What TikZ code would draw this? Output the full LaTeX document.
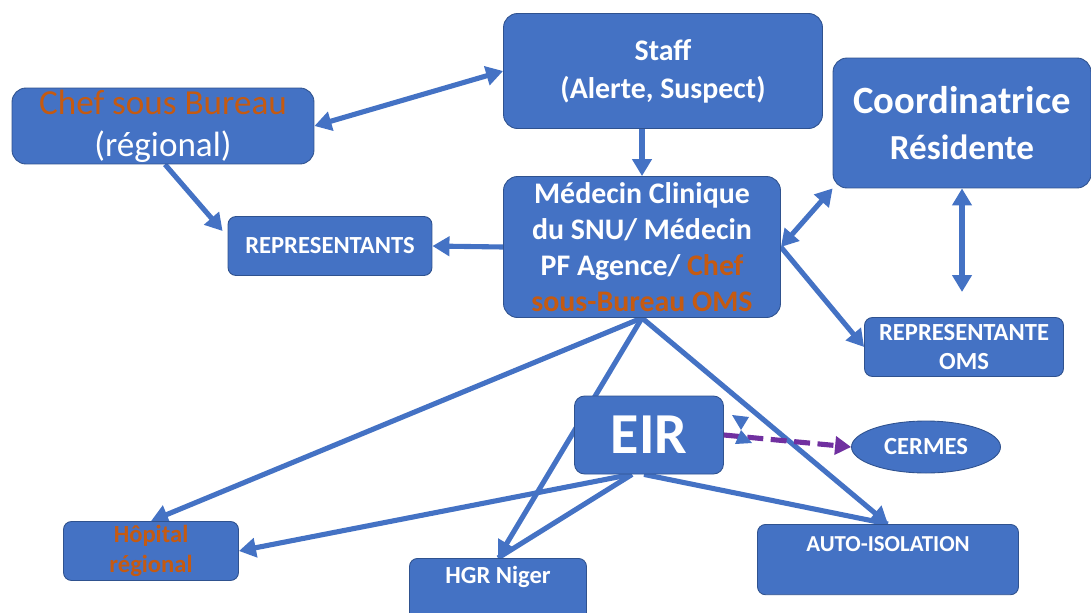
\documentclass[tikz,border=0pt]{standalone}
\usepackage{fontspec}
\setmainfont{Carlito}
\usetikzlibrary{arrows.meta,shapes.geometric,backgrounds}
\definecolor{boxblue}{HTML}{4472C4}
\definecolor{boxline}{HTML}{2F528F}
\definecolor{chefor}{HTML}{C55A11}
\definecolor{cermpurple}{HTML}{7030A0}
\tikzset{
  box/.style={rectangle, rounded corners=0.28cm, fill=boxblue, draw=boxline,
    line width=0.5pt, text=white, align=center, inner sep=0pt},
  smallbox/.style={box, rounded corners=0.16cm},
  link/.style={boxblue, line width=2.9pt},
  linkone/.style={link, -{Triangle[length=0.34cm,width=0.38cm]}},
  linktwo/.style={link, {Triangle[length=0.34cm,width=0.38cm]}-{Triangle[length=0.34cm,width=0.38cm]}},
}
\begin{document}
\begin{tikzpicture}[x=0.02cm,y=-0.02cm]
  \useasboundingbox (0,0) rectangle (1091,612);
  % boxes
  \node[box, minimum width=6.38cm, minimum height=2.3cm,
    font=\fontsize{17}{21.5}\selectfont\bfseries] (staff) at (663,71) {Staff\\(Alerte, Suspect)};
  \node[box, minimum width=6.04cm, minimum height=1.52cm,
    font=\fontsize{20}{24}\selectfont] (chef) at (163,126) {\textcolor{chefor}{Chef sous Bureau}\\(régional)};
  \node[box, minimum width=5.16cm, minimum height=2.6cm,
    font=\fontsize{22}{26}\selectfont\bfseries] (coord) at (962,123) {Coordinatrice\\{\fontsize{20}{26}\selectfont Résidente}};
  \node[box, minimum width=5.54cm, minimum height=2.82cm,
    font=\fontsize{17}{20.6}\selectfont\bfseries] (medecin) at (642,247)
    {Médecin Clinique\\du SNU/ Médecin\\PF Agence/ \textcolor{chefor}{Chef}\\\textcolor{chefor}{sous-Bureau OMS}};
  \node[smallbox, minimum width=4.08cm, minimum height=1.18cm,
    font=\fontsize{14}{17}\selectfont\bfseries] (repr) at (330,246) {REPRESENTANTS};
  \node[smallbox, minimum width=3.98cm, minimum height=1.18cm,
    font=\fontsize{14}{16}\selectfont\bfseries] (reproms) at (964,347) {REPRESENTANTE\\OMS};
  \node[box, rounded corners=0.2cm, minimum width=2.98cm, minimum height=1.56cm,
    font=\fontsize{33}{40}\selectfont\bfseries] (eir) at (649,435) {EIR};
  \node[ellipse, fill=boxblue, draw=boxline, line width=0.5pt, text=white, inner sep=0pt,
    minimum width=2.98cm, minimum height=1.04cm,
    font=\fontsize{14}{17}\selectfont\bfseries] (cermes) at (926,447) {CERMES};
  \node[smallbox, minimum width=3.5cm, minimum height=1.18cm, text=chefor,
    font=\fontsize{14}{17}\selectfont\bfseries] (hopital) at (151,551) {Hôpital\\régional};
  \node[smallbox, anchor=north, minimum width=3.54cm, text height=10pt, text depth=30pt,
    inner ysep=4.2pt, font=\fontsize{14}{17}\selectfont\bfseries] (hgr) at (498,558) {HGR Niger};
  \node[smallbox, anchor=north, minimum width=5.22cm, text height=10pt, text depth=19pt,
    inner ysep=5.5pt, font=\fontsize{13}{16}\selectfont\bfseries] (auto) at (888,524) {AUTO-ISOLATION};
  \coordinate (cr) at (962,292);
  % connectors
  \begin{pgfonlayer}{background}
    \path [linktwo] (chef.east) edge (staff.west);
    \path [linkone] (medecin.north |- staff.south) edge (medecin.north);
    \path [linkone] ([xshift=0.04cm]chef.south) edge ([shift={(-0.1cm,0.3cm)}]repr.west);
    \path [linkone] (medecin.west) edge (repr.east);
    \path [linktwo] (medecin.east) edge (coord.south west);
    \path [linktwo] (coord.south) edge (cr);
    \path [linkone] (medecin.east) edge (reproms.west);
    \path [linkone] (medecin.south) edge (hopital.north);
    \path [linkone] (medecin.south) edge (hgr.north);
    \path [linkone] (medecin.south) edge (auto.north);
    \path [linkone] ([xshift=-0.36cm]eir.south) edge (hopital.east);
    \path [link] ([xshift=-0.34cm]eir.south) edge (hgr.north);
    \path [link] ([xshift=-0.1cm]eir.south) edge (auto.north);
  \end{pgfonlayer}
  \path [cermpurple, line width=2.9pt, dash pattern=on 0.32cm off 0.15cm,
    -{Triangle[length=0.32cm,width=0.36cm]}] (eir.east) edge (cermes.west);
  \fill[boxblue] (732,415) -- (749,417) -- (741,430) -- cycle;
  \fill[boxblue] (741,430) -- (735,444) -- (752,443) -- cycle;
\end{tikzpicture}
\end{document}
